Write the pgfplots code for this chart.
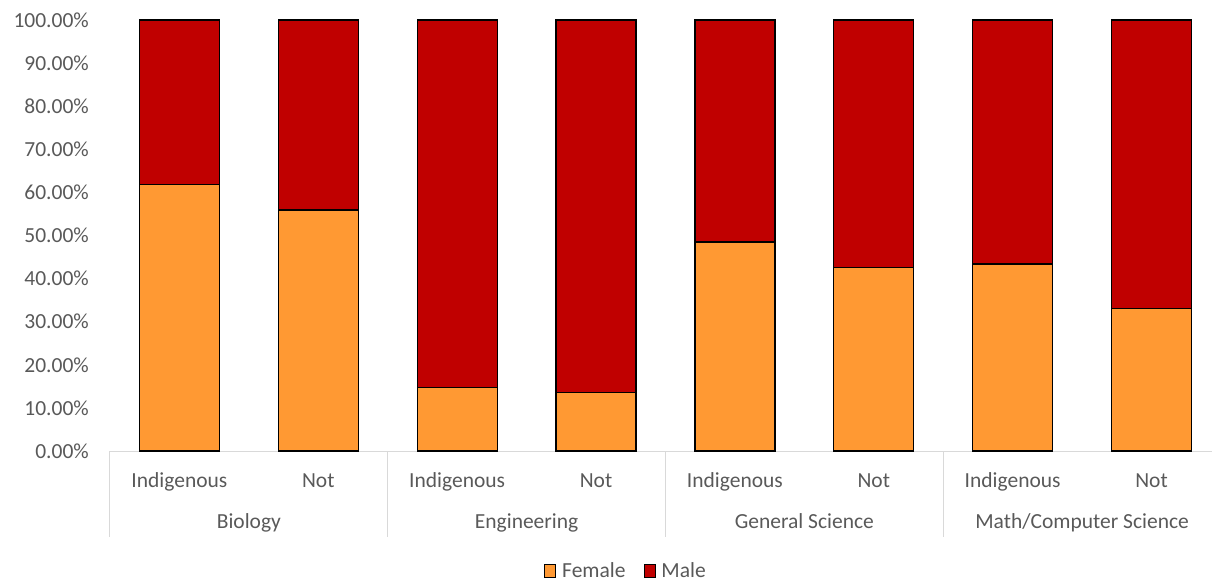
\documentclass[border=0pt]{standalone}
\usepackage{pgfplots}
\pgfplotsset{compat=1.18}
\usepackage{fontspec}
\setmainfont{Carlito}
\definecolor{femalec}{HTML}{FF9933}
\definecolor{malec}{HTML}{C00000}
\definecolor{txtc}{HTML}{595959}
\definecolor{linec}{HTML}{D9D9D9}
\newcommand\lab{\fontsize{21.5}{25}\selectfont}
\begin{document}
\lab
\begin{tikzpicture}
\begin{axis}[
  scale only axis, width=1111pt, height=431pt,
  ybar stacked, bar width=0.576,
  xmin=-0.5, xmax=7.5, ymin=0, ymax=100,
  xtick={0,...,7},
  xticklabels={Indigenous,Not,Indigenous,Not,Indigenous,Not,Indigenous,Not},
  ytick={0,10,...,100},
  yticklabel={\pgfmathprintnumber[fixed,fixed zerofill,precision=2,/pgf/number format/assume math mode=true]{\tick}\%},
  axis lines*=left,
  y axis line style={draw=none},
  x axis line style={-, linec, line width=1pt},
  major tick length=0pt,
  tick label style={font=\lab, text=txtc},
  yticklabel style={inner sep=0pt, anchor=east, xshift=-21pt},
  xticklabel style={inner sep=0pt, anchor=base, yshift=-36pt},
  clip=false,
  legend style={at={(rel axis cs:0.4645,-0.28)}, anchor=center, draw=none,
    font=\lab, text=txtc,
    /tikz/every odd column/.append style={column sep=4pt},
    /tikz/every even column/.append style={column sep=16pt}},
  legend columns=-1,
  legend image code/.code={\draw[#1, draw=black, line width=0.9pt] (0pt,-6pt) rectangle (11pt,7pt);},
]
\addplot[fill=femalec, draw=black, line width=1.2pt] coordinates
  {(0,61.9) (1,55.9) (2,14.8) (3,13.5) (4,48.5) (5,42.5) (6,43.4) (7,33.0)};
\addplot[fill=malec, draw=black, line width=1.2pt] coordinates
  {(0,38.1) (1,44.1) (2,85.2) (3,86.5) (4,51.5) (5,57.5) (6,56.6) (7,67.0)};
\legend{Female,Male}
\foreach \s in {-0.5,1.5,3.5,5.5}{
  \edef\tmp{\noexpand\draw[linec, line width=1pt] (axis cs:\s,0) -- ++(0pt,-86pt);}\tmp
}
\node[anchor=base, text=txtc, inner sep=0pt] at ([yshift=-77pt]axis cs:0.5,0) {Biology};
\node[anchor=base, text=txtc, inner sep=0pt] at ([yshift=-77pt]axis cs:2.5,0) {Engineering};
\node[anchor=base, text=txtc, inner sep=0pt] at ([yshift=-77pt]axis cs:4.5,0) {General Science};
\node[anchor=base, text=txtc, inner sep=0pt] at ([yshift=-77pt]axis cs:6.5,0) {Math/Computer Science};
\coordinate (o) at (rel axis cs:0,0);
\end{axis}
\pgfresetboundingbox
\path (o) ++(-110pt,-132pt) rectangle ++(1212pt,583pt);
\end{tikzpicture}
\end{document}
